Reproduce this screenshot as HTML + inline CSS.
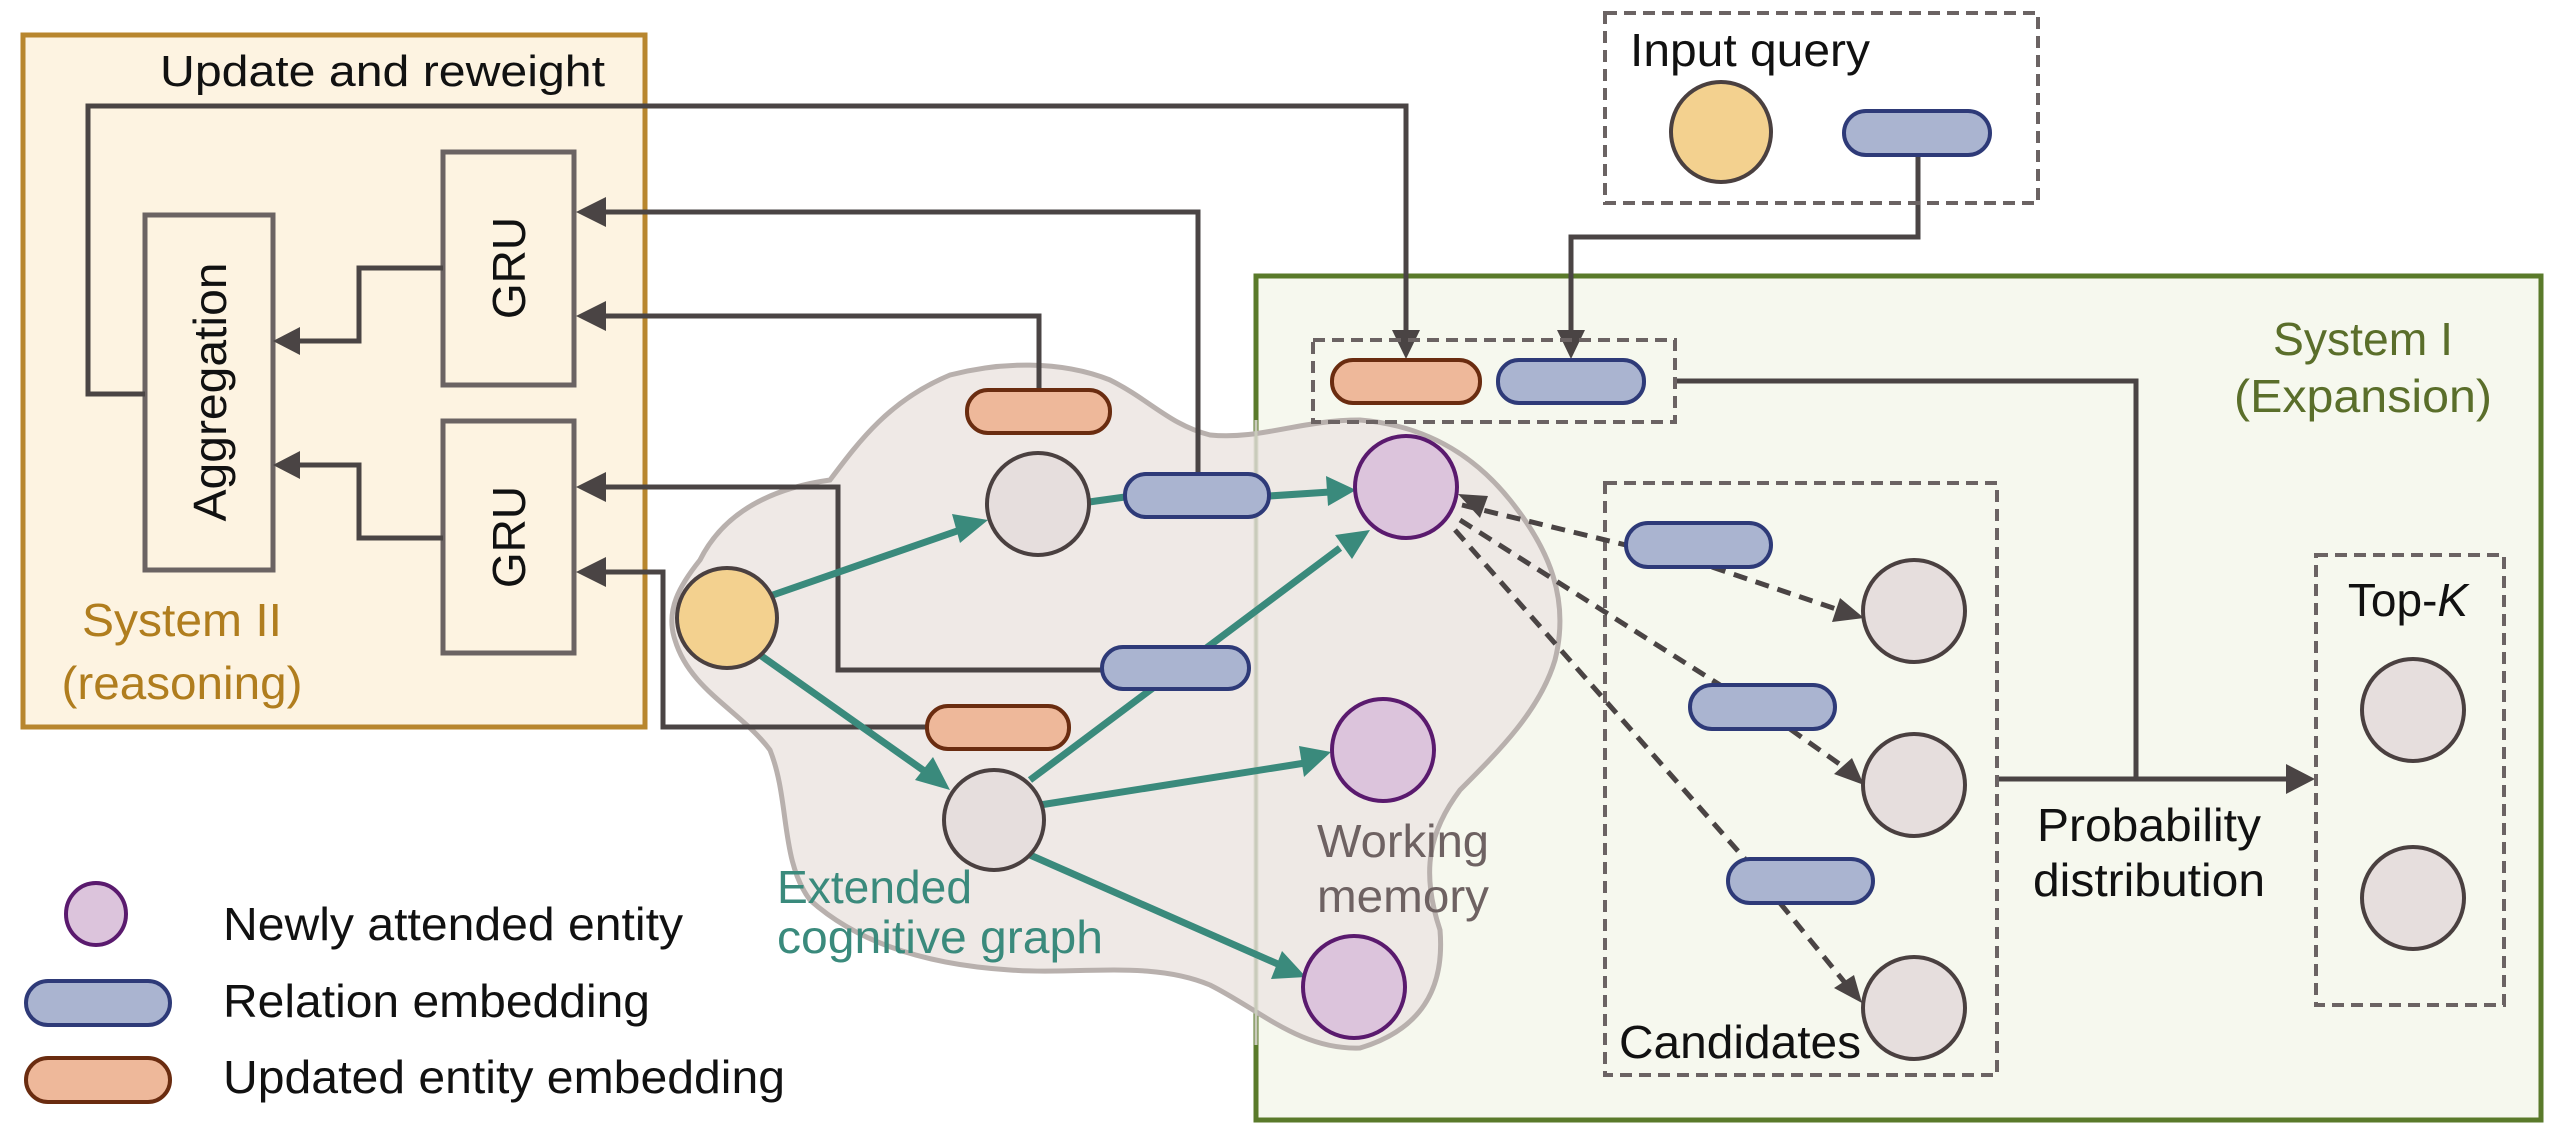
<!DOCTYPE html>
<html><head><meta charset="utf-8"><style>
html,body{margin:0;padding:0;background:#fff;}
svg{display:block;}
text{font-family:"Liberation Sans",sans-serif;}
</style></head><body>
<svg width="2561" height="1140" viewBox="0 0 2561 1140" xmlns="http://www.w3.org/2000/svg">
<!-- System II -->
<rect x="23" y="35" width="622" height="692" fill="#fdf3e1" stroke="#b8862e" stroke-width="5"/>
<!-- System I -->
<rect x="1256" y="276" width="1285" height="844" fill="#f6f8ee" stroke="#5a7a2a" stroke-width="5"/>
<!-- cloud -->
<path d="M700,560 C720,520 760,490 830,480 C860,440 890,400 950,375 C1000,362 1060,360 1110,380 C1150,400 1170,425 1210,435 C1260,440 1300,420 1360,420 C1420,425 1470,450 1510,500 C1550,550 1570,600 1555,660 C1540,710 1500,750 1460,790 C1430,830 1420,870 1440,930 C1445,990 1420,1030 1360,1048 C1300,1050 1260,1010 1210,985 C1150,960 1080,975 1010,970 C930,965 860,945 810,900 C780,860 790,800 770,750 C740,710 690,690 675,640 C665,610 680,585 700,560 Z" fill="#ede7e3" fill-opacity="0.9" stroke="#b8b0ad" stroke-width="5"/>
<line x1="1256" y1="420" x2="1256" y2="1045" stroke="#c9cbbb" stroke-width="3"/>

<!-- Text -->
<text x="160" y="86" font-size="44" textLength="445" lengthAdjust="spacingAndGlyphs" fill="#111">Update and reweight</text>
<text x="182" y="636" font-size="46" text-anchor="middle" textLength="200" lengthAdjust="spacingAndGlyphs" fill="#b07d1e">System II</text>
<text x="182" y="699" font-size="46" text-anchor="middle" textLength="241" lengthAdjust="spacingAndGlyphs" fill="#b07d1e">(reasoning)</text>
<text x="2363" y="355" font-size="46" text-anchor="middle" textLength="180" lengthAdjust="spacingAndGlyphs" fill="#5a6e2a">System I</text>
<text x="2363" y="412" font-size="46" text-anchor="middle" textLength="258" lengthAdjust="spacingAndGlyphs" fill="#5a6e2a">(Expansion)</text>

<!-- Aggregation / GRU boxes -->
<rect x="145" y="215" width="128" height="355" fill="none" stroke="#6b6363" stroke-width="5"/>
<text transform="translate(226,392) rotate(-90)" font-size="46" text-anchor="middle" textLength="259" lengthAdjust="spacingAndGlyphs" fill="#111">Aggregation</text>
<rect x="443" y="152" width="131" height="233" fill="none" stroke="#6b6363" stroke-width="5"/>
<text transform="translate(525,268) rotate(-90)" font-size="46" text-anchor="middle" fill="#111">GRU</text>
<rect x="443" y="421" width="131" height="232" fill="none" stroke="#6b6363" stroke-width="5"/>
<text transform="translate(525,537) rotate(-90)" font-size="46" text-anchor="middle" fill="#111">GRU</text>

<g fill="none" stroke="#4a4444" stroke-width="5">
<polyline points="145,394 88,394 88,106 1406,106 1406,335"/>
<polyline points="443,268 359,268 359,341 295,341"/>
<polyline points="443,538 359,538 359,465 295,465"/>
<polyline points="1198,473 1198,212 598,212"/>
<polyline points="1039,390 1039,316 598,316"/>
<polyline points="1102,670 838,670 838,487 598,487"/>
<polyline points="927,727 663,727 663,572 598,572"/>
<polyline points="1918,155 1918,237 1571,237 1571,335"/>
<polyline points="1675,381 2136,381 2136,779"/>
<line x1="1997" y1="779" x2="2290" y2="779"/>
</g>
<g fill="#4a4444">
<polygon points="273,341 300,327 300,355"/>
<polygon points="273,465 300,451 300,479"/>
<polygon points="576,212 606,197 606,227"/>
<polygon points="576,316 606,301 606,331"/>
<polygon points="576,487 606,472 606,502"/>
<polygon points="576,572 606,557 606,587"/>
<polygon points="1406,359 1392,330 1420,330"/>
<polygon points="1571,359 1557,330 1585,330"/>
<polygon points="2315,779 2286,764 2286,794"/>
</g>

<!-- Input query box -->
<rect x="1605" y="13" width="433" height="190" fill="none" stroke="#6b6363" stroke-width="4" stroke-dasharray="12,7"/>
<text x="1630" y="66" font-size="46" textLength="240" lengthAdjust="spacingAndGlyphs" fill="#111">Input query</text>
<circle cx="1721" cy="132" r="50" fill="#f3d18f" stroke="#4a4040" stroke-width="4"/>
<rect x="1844" y="111" width="146" height="44" rx="22" fill="#aab4d0" stroke="#2e3a78" stroke-width="4"/>

<!-- top dashed box -->
<rect x="1313" y="340" width="362" height="82" fill="none" stroke="#6b6363" stroke-width="4" stroke-dasharray="12,7"/>
<rect x="1332" y="360" width="148" height="43" rx="21" fill="#eeb89a" stroke="#6a2c10" stroke-width="4"/>
<rect x="1498" y="360" width="146" height="43" rx="21" fill="#aab4d0" stroke="#2e3a78" stroke-width="4"/>

<!-- teal arrows -->
<g stroke="#3a8a7c" stroke-width="7" fill="none">
<line x1="770" y1="596" x2="960" y2="530"/>
<line x1="1089" y1="502" x2="1125" y2="497"/>
<line x1="1269" y1="496" x2="1330" y2="492"/>
<line x1="760" y1="655" x2="930" y2="775"/>
<line x1="1030" y1="780" x2="1340" y2="548"/>
<line x1="1040" y1="805" x2="1305" y2="763"/>
<line x1="1030" y1="855" x2="1280" y2="965"/>
</g>
<g fill="#3a8a7c">
<polygon points="988,520 952,514 960,543"/>
<polygon points="1356,490 1326,476 1328,506"/>
<polygon points="950,790 915,780 933,757"/>
<polygon points="1370,530 1335,535 1352,559"/>
<polygon points="1331,752 1299,746 1304,777"/>
<polygon points="1306,977 1282,951 1271,979"/>
</g>

<!-- cloud nodes -->
<rect x="967" y="390" width="143" height="43" rx="21" fill="#eeb89a" stroke="#6a2c10" stroke-width="4"/>
<circle cx="1038" cy="504" r="51" fill="#e6dedd" stroke="#4a4040" stroke-width="4"/>
<rect x="1125" y="474" width="144" height="43" rx="21" fill="#aab4d0" stroke="#2e3a78" stroke-width="4"/>
<circle cx="727" cy="618" r="50" fill="#f3d18f" stroke="#4a4040" stroke-width="4"/>
<rect x="1102" y="647" width="147" height="42" rx="21" fill="#aab4d0" stroke="#2e3a78" stroke-width="4"/>
<rect x="927" y="706" width="142" height="43" rx="21" fill="#eeb89a" stroke="#6a2c10" stroke-width="4"/>
<circle cx="994" cy="820" r="50" fill="#e6dedd" stroke="#4a4040" stroke-width="4"/>
<circle cx="1406" cy="487" r="51" fill="#dcc4dc" stroke="#5a1a6e" stroke-width="4"/>
<circle cx="1383" cy="750" r="51" fill="#dcc4dc" stroke="#5a1a6e" stroke-width="4"/>
<circle cx="1354" cy="987" r="51" fill="#dcc4dc" stroke="#5a1a6e" stroke-width="4"/>
<text x="777" y="903" font-size="46" textLength="195" lengthAdjust="spacingAndGlyphs" fill="#3a8a7c">Extended</text>
<text x="777" y="953" font-size="46" textLength="326" lengthAdjust="spacingAndGlyphs" fill="#3a8a7c">cognitive graph</text>
<text x="1403" y="857" font-size="46" text-anchor="middle" textLength="172" lengthAdjust="spacingAndGlyphs" fill="#6e6262">Working</text>
<text x="1403" y="912" font-size="46" text-anchor="middle" textLength="172" lengthAdjust="spacingAndGlyphs" fill="#6e6262">memory</text>

<!-- Candidates -->
<rect x="1605" y="483" width="392" height="592" fill="none" stroke="#6b6363" stroke-width="4" stroke-dasharray="12,7"/>
<g stroke="#4a4444" stroke-width="5" stroke-dasharray="14,9" fill="none">
<line x1="1462" y1="505" x2="1626" y2="545"/>
<line x1="1712" y1="567" x2="1845" y2="612"/>
<line x1="1460" y1="520" x2="1720" y2="685"/>
<line x1="1790" y1="729" x2="1855" y2="775"/>
<line x1="1455" y1="530" x2="1745" y2="859"/>
<line x1="1780" y1="903" x2="1855" y2="995"/>
</g>
<g fill="#4a4444">
<polygon points="1458,494 1488,496 1480,518"/>
<polygon points="1864,618 1832,622 1840,598"/>
<polygon points="1864,785 1834,774 1852,758"/>
<polygon points="1862,1003 1834,988 1854,975"/>
</g>
<rect x="1626" y="523" width="145" height="44" rx="22" fill="#aab4d0" stroke="#2e3a78" stroke-width="4"/>
<circle cx="1914" cy="611" r="51" fill="#e6dedd" stroke="#4a4040" stroke-width="4"/>
<rect x="1690" y="685" width="145" height="44" rx="22" fill="#aab4d0" stroke="#2e3a78" stroke-width="4"/>
<circle cx="1914" cy="785" r="51" fill="#e6dedd" stroke="#4a4040" stroke-width="4"/>
<rect x="1728" y="859" width="145" height="44" rx="22" fill="#aab4d0" stroke="#2e3a78" stroke-width="4"/>
<circle cx="1914" cy="1008" r="51" fill="#e6dedd" stroke="#4a4040" stroke-width="4"/>
<text x="1619" y="1058" font-size="46" textLength="242" lengthAdjust="spacingAndGlyphs" fill="#111">Candidates</text>

<text x="2149" y="841" font-size="46" text-anchor="middle" textLength="224" lengthAdjust="spacingAndGlyphs" fill="#111">Probability</text>
<text x="2149" y="896" font-size="46" text-anchor="middle" textLength="232" lengthAdjust="spacingAndGlyphs" fill="#111">distribution</text>

<!-- Top-K -->
<rect x="2316" y="555" width="188" height="450" fill="none" stroke="#6b6363" stroke-width="4" stroke-dasharray="12,7"/>
<text x="2408" y="616" font-size="46" text-anchor="middle" fill="#111">Top-<tspan font-style="italic">K</tspan></text>
<circle cx="2413" cy="710" r="51" fill="#e6dedd" stroke="#4a4040" stroke-width="4"/>
<circle cx="2413" cy="898" r="51" fill="#e6dedd" stroke="#4a4040" stroke-width="4"/>

<!-- Legend -->
<ellipse cx="96" cy="914" rx="30" ry="31" fill="#dcc4dc" stroke="#5a1a6e" stroke-width="4"/>
<text x="223" y="940" font-size="46" textLength="460" lengthAdjust="spacingAndGlyphs" fill="#111">Newly attended entity</text>
<rect x="26" y="981" width="144" height="44" rx="22" fill="#aab4d0" stroke="#2e3a78" stroke-width="4"/>
<text x="223" y="1017" font-size="46" textLength="427" lengthAdjust="spacingAndGlyphs" fill="#111">Relation embedding</text>
<rect x="26" y="1058" width="144" height="44" rx="22" fill="#eeb89a" stroke="#6a2c10" stroke-width="4"/>
<text x="223" y="1093" font-size="46" textLength="562" lengthAdjust="spacingAndGlyphs" fill="#111">Updated entity embedding</text>
</svg>
</body></html>
